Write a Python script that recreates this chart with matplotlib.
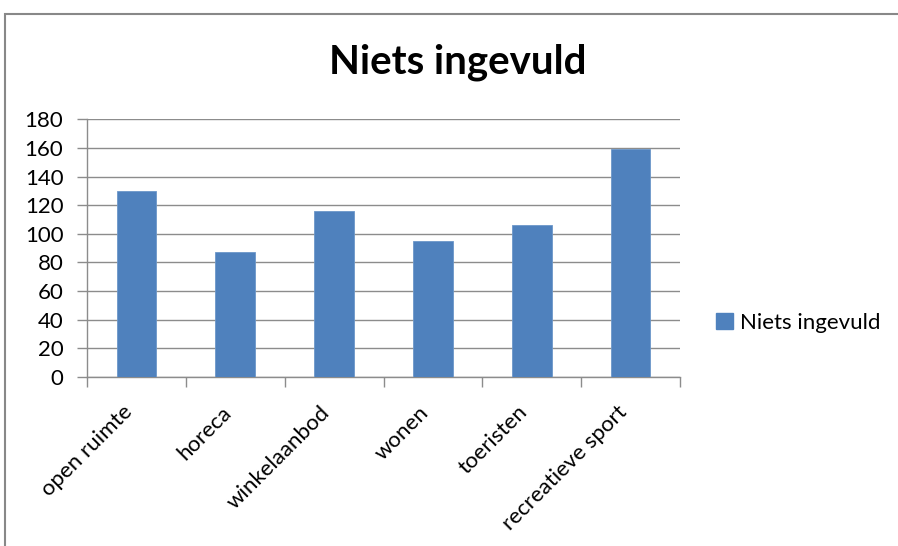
import matplotlib
matplotlib.use("Agg")
import matplotlib.pyplot as plt
from matplotlib.patches import Patch, Rectangle
import numpy as np

plt.rcParams['font.family'] = ['Lato', 'DejaVu Sans']

# data
categories = ['open ruimte', 'horeca', 'winkelaanbod', 'wonen', 'toeristen', 'recreatieve sport']
values = [130, 87, 116, 95, 106, 159]
series_name = 'Niets ingevuld'
yticks = [0, 20, 40, 60, 80, 100, 120, 140, 160, 180]

bar_color = '#4F81BD'
grid_color = '#8C8C8C'

fig = plt.figure(figsize=(8.98, 5.46), dpi=100)

# outer chart border (top and left visible, rest cropped)
fig.add_artist(Rectangle((5 / 898, -0.1), 1.2, 1 - 14 / 546 + 0.1, transform=fig.transFigure,
                         fill=False, edgecolor='#888888', linewidth=1.5))

ax = fig.add_axes([87 / 898, 1 - 377 / 546, (680 - 87) / 898, (377 - 119.3) / 546])

x = np.arange(len(categories))
ax.bar(x, values, width=0.4, color=bar_color, edgecolor='#6C97C9', linewidth=0.6, zorder=3)

ax.set_xlim(-0.5, len(categories) - 0.5)
ax.set_ylim(0, 180)
ax.set_yticks(yticks)
ax.set_yticklabels([str(v) for v in yticks])
ax.yaxis.grid(True, color=grid_color, linewidth=1.0, zorder=0)

for s in ['top', 'right']:
    ax.spines[s].set_visible(False)
for s in ['left', 'bottom']:
    ax.spines[s].set_color(grid_color)
    ax.spines[s].set_linewidth(1.0)

ax.tick_params(axis='y', length=7, width=1.0, color=grid_color, pad=10, labelsize=16, labelcolor='black')
ax.set_xticks(x)
ax.set_xticks(np.arange(len(categories) + 1) - 0.5, minor=True)
ax.tick_params(axis='x', which='major', length=0, pad=18, labelsize=16, labelcolor='black')
ax.tick_params(axis='x', which='minor', length=7, width=1.0, color=grid_color)
ax.set_xticklabels(categories, rotation=45, ha='right', va='top', rotation_mode='default')

fig.text(458 / 898, 1 - 62 / 546, 'Niets ingevuld', ha='center', va='center',
         fontsize=29, fontweight='bold')

handle = Patch(facecolor=bar_color, edgecolor=bar_color)
fig.legend([handle], [series_name], loc='center left', bbox_to_anchor=(716 / 898, 1 - 323 / 546),
           frameon=False, fontsize=16, handlelength=0.75, handleheight=0.75, handletextpad=0.35,
           borderaxespad=0, borderpad=0)

fig.savefig('out.png', dpi=100, facecolor='white')
